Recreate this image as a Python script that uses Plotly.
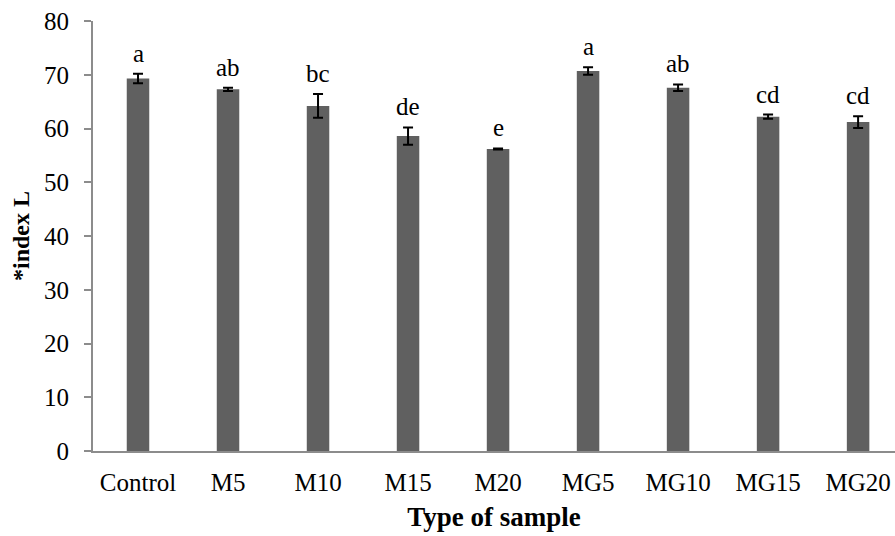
import plotly.graph_objects as go

categories = ["Control", "M5", "M10", "M15", "M20", "MG5", "MG10", "MG15", "MG20"]
values = [69.3, 67.3, 64.2, 58.6, 56.2, 70.7, 67.6, 62.2, 61.2]
errors = [0.9, 0.3, 2.2, 1.6, 0.1, 0.7, 0.6, 0.4, 1.1]
letters = ["a", "ab", "bc", "de", "e", "a", "ab", "cd", "cd"]
y_ticks = [0, 10, 20, 30, 40, 50, 60, 70, 80]

font = "Liberation Serif, Times New Roman, serif"

fig = go.Figure()
fig.add_trace(go.Bar(
    x=categories, y=values, width=0.25,
    marker=dict(color="#606060", line=dict(width=0)),
    error_y=dict(type="data", array=errors, visible=True, color="black", thickness=2, width=5),
))

for c, v, e, t in zip(categories, values, errors, letters):
    fig.add_annotation(x=c, y=v + e, text=t, showarrow=False, yanchor="bottom", yshift=5,
                       font=dict(family=font, size=25, color="black"))

fig.update_layout(
    width=895, height=536,
    margin=dict(l=93, r=0, t=21, b=85),
    plot_bgcolor="white", paper_bgcolor="white",
    showlegend=False,
    font=dict(family=font, size=25, color="black"),
    xaxis=dict(
        range=[-0.5, 8.41], showline=True, linecolor="#8c8c8c", linewidth=2,
        ticks="", showgrid=False, ticklabelstandoff=8,
        tickfont=dict(family=font, size=25, color="black"),
        title=dict(text="<b>Type of sample</b>", font=dict(family=font, size=27, color="black"), standoff=12),
    ),
    yaxis=dict(
        range=[0, 80], tickvals=y_ticks, showline=True, linecolor="#8c8c8c", linewidth=2,
        ticks="outside", ticklen=7, tickcolor="#8c8c8c", tickwidth=1.5, showgrid=False, zeroline=False,
        ticklabelstandoff=10,
        tickfont=dict(family=font, size=25, color="black"),
        title=dict(text="<b>*index L</b>", font=dict(family=font, size=24, color="black"), standoff=8),
    ),
)

fig.write_html("out.html")
